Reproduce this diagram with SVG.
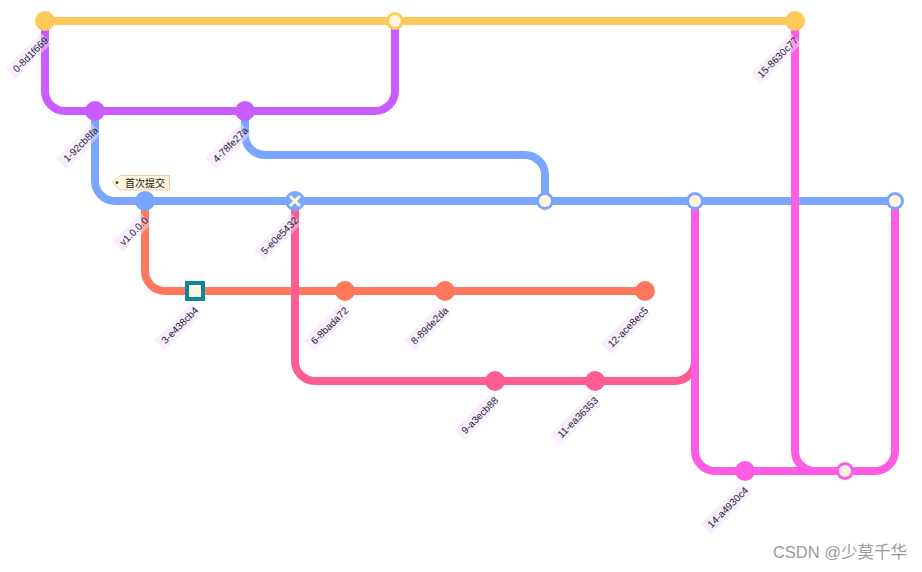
<svg xmlns="http://www.w3.org/2000/svg" width="922" height="572" viewBox="0 0 922 572">
<style>
.ln{fill:none;stroke-width:8;stroke-linecap:butt;stroke-linejoin:round}
.b0{stroke:#ffc95c}.b1{stroke:#c95cff}.b2{stroke:#7aa6ff}.b3{stroke:#ff775c}.b4{stroke:#ff5c92}.b5{stroke:#ff5ce4}
.f0{fill:#ffc95c}.f1{fill:#c95cff}.f2{fill:#7aa6ff}.f3{fill:#ff775c}.f4{fill:#ff5c92}.f5{fill:#ff5ce4}
.inner{fill:#fff4dd}
.bkg{fill:#f4ddff;opacity:0.5}
.lbl{font-family:"Liberation Sans",Arial,sans-serif;font-size:10px;fill:#1e1e2e;text-anchor:end}
.tag{fill:#fff4dd;stroke:#e6cf9c;stroke-width:1}
.tagt{font-family:"Liberation Sans","Noto Sans CJK SC",sans-serif;font-size:10px;fill:#222}
.wm{font-family:"Liberation Sans","Noto Sans CJK SC",sans-serif;font-size:16.5px;fill:#9a9a9a;text-anchor:end}
</style>
<g id="connectors">
  <path class="ln b0" d="M45 21 H795"/>
  <path class="ln b1" d="M45 21 V91 A20 20 0 0 0 65 111 H375 A20 20 0 0 0 395 91 V21"/>
  <path class="ln b2" d="M95 111 V181 A20 20 0 0 0 115 201 H895"/>
  <path class="ln b2" d="M245 111 V135 A20 20 0 0 0 265 155 H525 A20 20 0 0 1 545 175 V201"/>
  <path class="ln b3" d="M145 201 V271 A20 20 0 0 0 165 291 H645"/>
  <path class="ln b4" d="M295 201 V361 A20 20 0 0 0 315 381 H675 A20 20 0 0 0 695 361 V201"/>
  <path class="ln b5" d="M695 201 V451 A20 20 0 0 0 715 471 H875 A20 20 0 0 0 895 451 V201"/>
  <path class="ln b5" d="M795 21 V451 A20 20 0 0 0 815 471 H845"/>
</g>
<g id="c0"><circle cx="45" cy="21" r="10" class="f0"/>
  <g transform="translate(45,21) rotate(-45)"><rect class="bkg" x="-61.5" y="6" width="50" height="14.5"/><text class="lbl" x="-11.5" y="17">0-8d1f669</text></g></g>
<g id="c1"><circle cx="95" cy="111" r="10" class="f1"/>
  <g transform="translate(95,111) rotate(-45)"><rect class="bkg" x="-61" y="6" width="49.5" height="14.5"/><text class="lbl" x="-11.5" y="17">1-92cb8fa</text></g></g>
<g id="c2"><circle cx="145" cy="201" r="10" class="f2"/>
  <g transform="translate(145,201) rotate(-45)"><rect class="bkg" x="-52" y="6" width="40.5" height="14.5"/><text class="lbl" x="-11.5" y="17">v1.0.0.0</text></g>
  <g id="tag-c2"><polygon class="tag" points="112.3,182.5 120,175.5 169.5,175.5 169.5,190 120,190"/><circle cx="117" cy="182.7" r="1.4" fill="#333"/><text class="tagt" x="125" y="186.8">首次提交</text></g></g>
<g id="c3"><rect x="185" y="281" width="20" height="20" fill="#0a86a0"/><rect x="189" y="285" width="12" height="12" class="inner"/>
  <g transform="translate(195,291) rotate(-45)"><rect class="bkg" x="-63.5" y="6" width="52" height="14.5"/><text class="lbl" x="-11.5" y="17">3-e438cb4</text></g></g>
<g id="c4"><circle cx="245" cy="111" r="10" class="f1"/>
  <g transform="translate(245,111) rotate(-45)"><rect class="bkg" x="-61.5" y="6" width="50" height="14.5"/><text class="lbl" x="-11.5" y="17">4-78fe27a</text></g></g>
<g id="c5"><circle cx="295" cy="201" r="10" class="f2"/><path d="M290 196 L300 206 M290 206 L300 196" stroke="#fff4dd" stroke-width="3" fill="none"/>
  <g transform="translate(295,201) rotate(-45)"><rect class="bkg" x="-64" y="6" width="52.5" height="14.5"/><text class="lbl" x="-11.5" y="17">5-e0e5432</text></g></g>
<g id="c6"><circle cx="345" cy="291" r="10" class="f3"/>
  <g transform="translate(345,291) rotate(-45)"><rect class="bkg" x="-64" y="6" width="52.5" height="14.5"/><text class="lbl" x="-11.5" y="17">6-8bada72</text></g></g>
<g id="c7"><circle cx="395" cy="21" r="9" class="f0"/><circle cx="395" cy="21" r="6" class="inner"/></g>
<g id="c8"><circle cx="445" cy="291" r="10" class="f3"/>
  <g transform="translate(445,291) rotate(-45)"><rect class="bkg" x="-64" y="6" width="52.5" height="14.5"/><text class="lbl" x="-11.5" y="17">8-89de2da</text></g></g>
<g id="c9"><circle cx="495" cy="381" r="10" class="f4"/>
  <g transform="translate(495,381) rotate(-45)"><rect class="bkg" x="-63.5" y="6" width="52" height="14.5"/><text class="lbl" x="-11.5" y="17">9-a3ecb88</text></g></g>
<g id="c10"><circle cx="545" cy="201" r="9" class="f2"/><circle cx="545" cy="201" r="6" class="inner"/></g>
<g id="c11"><circle cx="595" cy="381" r="10" class="f4"/>
  <g transform="translate(595,381) rotate(-45)"><rect class="bkg" x="-69.5" y="6" width="58" height="14.5"/><text class="lbl" x="-11.5" y="17">11-ea36353</text></g></g>
<g id="c12"><circle cx="645" cy="291" r="10" class="f3"/>
  <g transform="translate(645,291) rotate(-45)"><rect class="bkg" x="-68.5" y="6" width="57" height="14.5"/><text class="lbl" x="-11.5" y="17">12-ace8ec5</text></g></g>
<g id="c13"><circle cx="695" cy="201" r="9" class="f2"/><circle cx="695" cy="201" r="6" class="inner"/></g>
<g id="c14"><circle cx="745" cy="471" r="10" class="f5"/>
  <g transform="translate(745,471) rotate(-45)"><rect class="bkg" x="-69" y="6" width="57.5" height="14.5"/><text class="lbl" x="-11.5" y="17">14-a4930c4</text></g></g>
<g id="c15"><circle cx="795" cy="21" r="10" class="f0"/>
  <g transform="translate(795,21) rotate(-45)"><rect class="bkg" x="-69" y="6" width="57.5" height="14.5"/><text class="lbl" x="-11.5" y="17">15-8630c77</text></g></g>
<g id="c16"><circle cx="845" cy="471" r="9" class="f5"/><circle cx="845" cy="471" r="6" class="inner"/></g>
<g id="c17"><circle cx="895" cy="201" r="9" class="f2"/><circle cx="895" cy="201" r="6" class="inner"/></g>
<text class="wm" x="907" y="558">CSDN @少莫千华</text>
</svg>
